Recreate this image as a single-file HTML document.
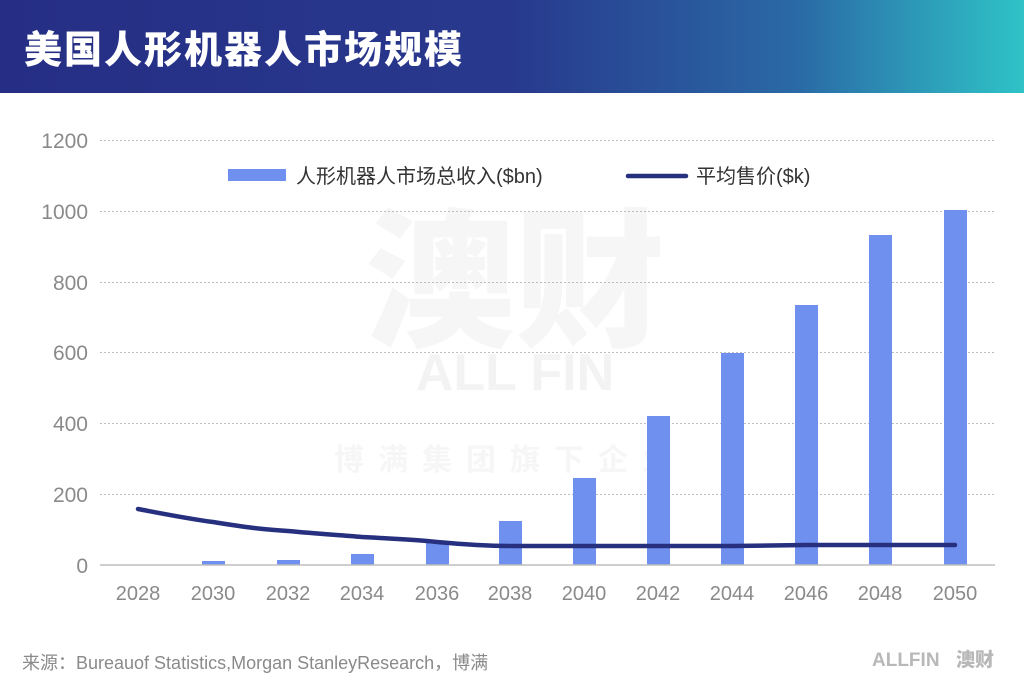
<!DOCTYPE html>
<html><head><meta charset="utf-8"><style>
body{margin:0;width:1024px;height:692px;background:#fff;overflow:hidden;font-family:"Liberation Sans","Noto Sans CJK SC",sans-serif;}
</style></head><body>
<svg width="1024" height="692" xmlns="http://www.w3.org/2000/svg" style="position:absolute;left:0;top:0">
<defs><linearGradient id="g" x1="0" x2="1" y1="0" y2="0">
<stop offset="0" stop-color="#252e84"/><stop offset="0.5" stop-color="#28398d"/><stop offset="0.78" stop-color="#2a6aa6"/><stop offset="1" stop-color="#2fc3c7"/></linearGradient></defs>
<rect x="0" y="0" width="1024" height="93" fill="url(#g)"/>
<text x="24" y="63" font-family="Noto Sans CJK SC, sans-serif" font-weight="900" font-size="38" fill="#fff" letter-spacing="2">美国人形机器人市场规模</text>
<text x="515" y="335" text-anchor="middle" font-family="Noto Sans CJK SC, sans-serif" font-weight="900" font-size="150" fill="#f6f6f6">澳财</text>
<text x="515" y="390" text-anchor="middle" font-weight="bold" font-size="52" fill="#f3f3f3">ALL FIN</text>
<text x="510" y="470" text-anchor="middle" font-family="Noto Sans CJK SC, sans-serif" font-weight="bold" font-size="30" fill="#f6f6f6" letter-spacing="14">博满集团旗下企业</text>
<g stroke="#bdbdbd" stroke-width="1" stroke-dasharray="2,2">
<line x1="100" x2="995" y1="140.5" y2="140.5"/><line x1="100" x2="995" y1="211.5" y2="211.5"/>
<line x1="100" x2="995" y1="282.5" y2="282.5"/><line x1="100" x2="995" y1="352.5" y2="352.5"/>
<line x1="100" x2="995" y1="423.5" y2="423.5"/><line x1="100" x2="995" y1="494.5" y2="494.5"/>
</g>
<g font-size="21" fill="#8a8a8a" text-anchor="end">
<text x="88" y="148">1200</text><text x="88" y="219">1000</text><text x="88" y="290">800</text>
<text x="88" y="360">600</text><text x="88" y="431">400</text><text x="88" y="502">200</text><text x="88" y="573">0</text>
</g>
<g fill="#7090f0">
<rect x="202" y="561" width="23" height="4"/>
<rect x="277" y="560" width="23" height="5"/>
<rect x="351" y="554" width="23" height="11"/>
<rect x="426" y="542" width="23" height="23"/>
<rect x="499" y="521" width="23" height="44"/>
<rect x="573" y="478" width="23" height="87"/>
<rect x="647" y="416" width="23" height="149"/>
<rect x="721" y="353" width="23" height="212"/>
<rect x="795" y="305" width="23" height="260"/>
<rect x="869" y="235" width="23" height="330"/>
<rect x="944" y="210" width="23" height="355"/>
</g>
<line x1="100" x2="995" y1="565" y2="565" stroke="#bdbdbd" stroke-width="1.5"/>
<path d="M138,509 C175,516 190,519 213,522 C250,528 260,529 288,531 C320,534 340,535 362,537 C400,539 420,540 437,542 C470,545 490,546 510,546 L584,546 L658,546 L732,546 L806,545 L880,545 L955,545" fill="none" stroke="#26307e" stroke-width="4.5" stroke-linecap="round"/>
<g font-size="20" fill="#8a8a8a" text-anchor="middle">
<text x="138" y="600">2028</text><text x="213" y="600">2030</text><text x="288" y="600">2032</text>
<text x="362" y="600">2034</text><text x="437" y="600">2036</text><text x="510" y="600">2038</text>
<text x="584" y="600">2040</text><text x="658" y="600">2042</text><text x="732" y="600">2044</text>
<text x="806" y="600">2046</text><text x="880" y="600">2048</text><text x="955" y="600">2050</text>
</g>
<rect x="228" y="169" width="58" height="12" fill="#7090f0"/>
<text x="296" y="183" font-size="20" fill="#333">人形机器人市场总收入($bn)</text>
<line x1="628" x2="686" y1="176" y2="176" stroke="#26307e" stroke-width="4.5" stroke-linecap="round"/>
<text x="696" y="183" font-size="20" fill="#333">平均售价($k)</text>
<text x="22" y="669" font-size="18" fill="#8a8a8a">来源：Bureauof Statistics,Morgan StanleyResearch，博满</text>
<text x="872" y="666" font-weight="bold" font-size="19" fill="#b8b8b8">ALLFIN</text>
<text x="956" y="666" font-family="Noto Sans CJK SC, sans-serif" font-weight="900" font-size="19" fill="#b8b8b8">澳财</text>
</svg>
</body></html>
